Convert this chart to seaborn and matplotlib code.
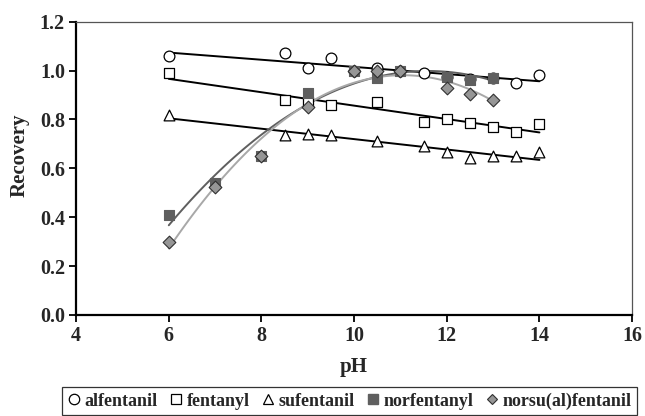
import matplotlib
matplotlib.use("Agg")
import matplotlib.pyplot as plt
import seaborn as sns
import numpy as np
from matplotlib.lines import Line2D

# ---- data ----
ph_alf = [6, 8.5, 9, 9.5, 10, 10.5, 11, 11.5, 12, 12.5, 13, 13.5, 14]
rec_alf = [1.06, 1.07, 1.01, 1.05, 1.00, 1.01, 1.00, 0.99, 0.975, 0.965, 0.97, 0.95, 0.98]

ph_fen = [6, 8.5, 9, 9.5, 10.5, 11.5, 12, 12.5, 13, 13.5, 14]
rec_fen = [0.99, 0.88, 0.87, 0.86, 0.87, 0.79, 0.80, 0.785, 0.77, 0.75, 0.78]

ph_suf = [6, 8.5, 9, 9.5, 10.5, 11.5, 12, 12.5, 13, 13.5, 14]
rec_suf = [0.82, 0.735, 0.74, 0.735, 0.71, 0.69, 0.665, 0.64, 0.65, 0.65, 0.665]

ph_nor = [6, 7, 8, 9, 10, 10.5, 11, 12, 12.5, 13]
rec_nor = [0.41, 0.54, 0.65, 0.91, 1.00, 0.97, 1.00, 0.975, 0.96, 0.97]

ph_nsu = [6, 7, 8, 9, 10, 10.5, 11, 12, 12.5, 13]
rec_nsu = [0.30, 0.525, 0.65, 0.85, 1.00, 1.00, 1.00, 0.93, 0.905, 0.88]

labels = ["alfentanil", "fentanyl", "sufentanil", "norfentanyl", "norsu(al)fentanil"]
x_ticks = [4, 6, 8, 10, 12, 14, 16]
y_ticks = [0.0, 0.2, 0.4, 0.6, 0.8, 1.0, 1.2]

sns.set_theme(style="white")
plt.rcParams['font.family'] = ['Liberation Serif', 'DejaVu Serif']
plt.rcParams['font.weight'] = 'bold'

fig = plt.figure(figsize=(6.45, 4.16), dpi=100)
ax = fig.add_axes([0.118, 0.243, 0.862, 0.705])

series = [
    (ph_alf, rec_alf, 1, 'o', dict(facecolor='white', edgecolor='black', s=60, linewidths=0.9), 'black'),
    (ph_fen, rec_fen, 1, 's', dict(facecolor='white', edgecolor='black', s=55, linewidths=0.9), 'black'),
    (ph_suf, rec_suf, 1, '^', dict(facecolor='white', edgecolor='black', s=60, linewidths=0.9), 'black'),
    (ph_nor, rec_nor, 2, 's', dict(facecolor='#5f5f5f', edgecolor='#5f5f5f', s=50, linewidths=0.8), '#5f5f5f'),
    (ph_nsu, rec_nsu, 2, 'D', dict(facecolor='#969696', edgecolor='#303030', s=42, linewidths=0.8), '#a8a8a8'),
]

for xs, ys, order, mk, skw, lc in series:
    sns.regplot(x=np.array(xs, float), y=np.array(ys, float), order=order, ci=None,
                truncate=True, ax=ax, marker=mk, scatter_kws=dict(alpha=1, zorder=3, **skw),
                line_kws=dict(color=lc, lw=1.4, zorder=2))

ax.set_xlim(4, 16)
ax.set_ylim(0, 1.2)
ax.set_xticks(x_ticks)
ax.set_yticks(y_ticks)
ax.set_yticklabels([f"{v:.1f}" for v in y_ticks])
ax.tick_params(axis='both', which='major', labelsize=14.5, direction='out', length=5, width=1.3,
               bottom=True, left=True, color='black', pad=3)
for lab in ax.get_xticklabels() + ax.get_yticklabels():
    lab.set_fontweight('bold')

for s in ['left', 'bottom']:
    ax.spines[s].set_color('black')
    ax.spines[s].set_linewidth(1.6)
for s in ['top', 'right']:
    ax.spines[s].set_color('#555555')
    ax.spines[s].set_linewidth(0.9)

ax.set_xlabel("pH", fontsize=15, fontweight='bold', labelpad=8)
ax.set_ylabel("Recovery", fontsize=15, fontweight='bold')
ax.yaxis.set_label_coords(-0.083, 0.545)

handles = [
    Line2D([], [], ls='none', marker='o', mfc='white', mec='black', ms=7.5, mew=0.9),
    Line2D([], [], ls='none', marker='s', mfc='white', mec='black', ms=6.5, mew=0.9),
    Line2D([], [], ls='none', marker='^', mfc='white', mec='black', ms=7.5, mew=0.9),
    Line2D([], [], ls='none', marker='s', mfc='#5f5f5f', mec='#5f5f5f', ms=6.5),
    Line2D([], [], ls='none', marker='D', mfc='#969696', mec='#303030', ms=5.5, mew=0.8),
]
leg = fig.legend(handles, labels, loc='center', bbox_to_anchor=(0.542, 0.036), ncol=5,
                 frameon=True, fancybox=False, edgecolor='black',
                 handletextpad=0.25, columnspacing=0.65, borderpad=0.3, handlelength=0.7,
                 borderaxespad=0,
                 prop=dict(family='Liberation Serif', weight='bold', size=13))
leg.get_frame().set_linewidth(0.9)

fig.savefig("out.png", dpi=100)
